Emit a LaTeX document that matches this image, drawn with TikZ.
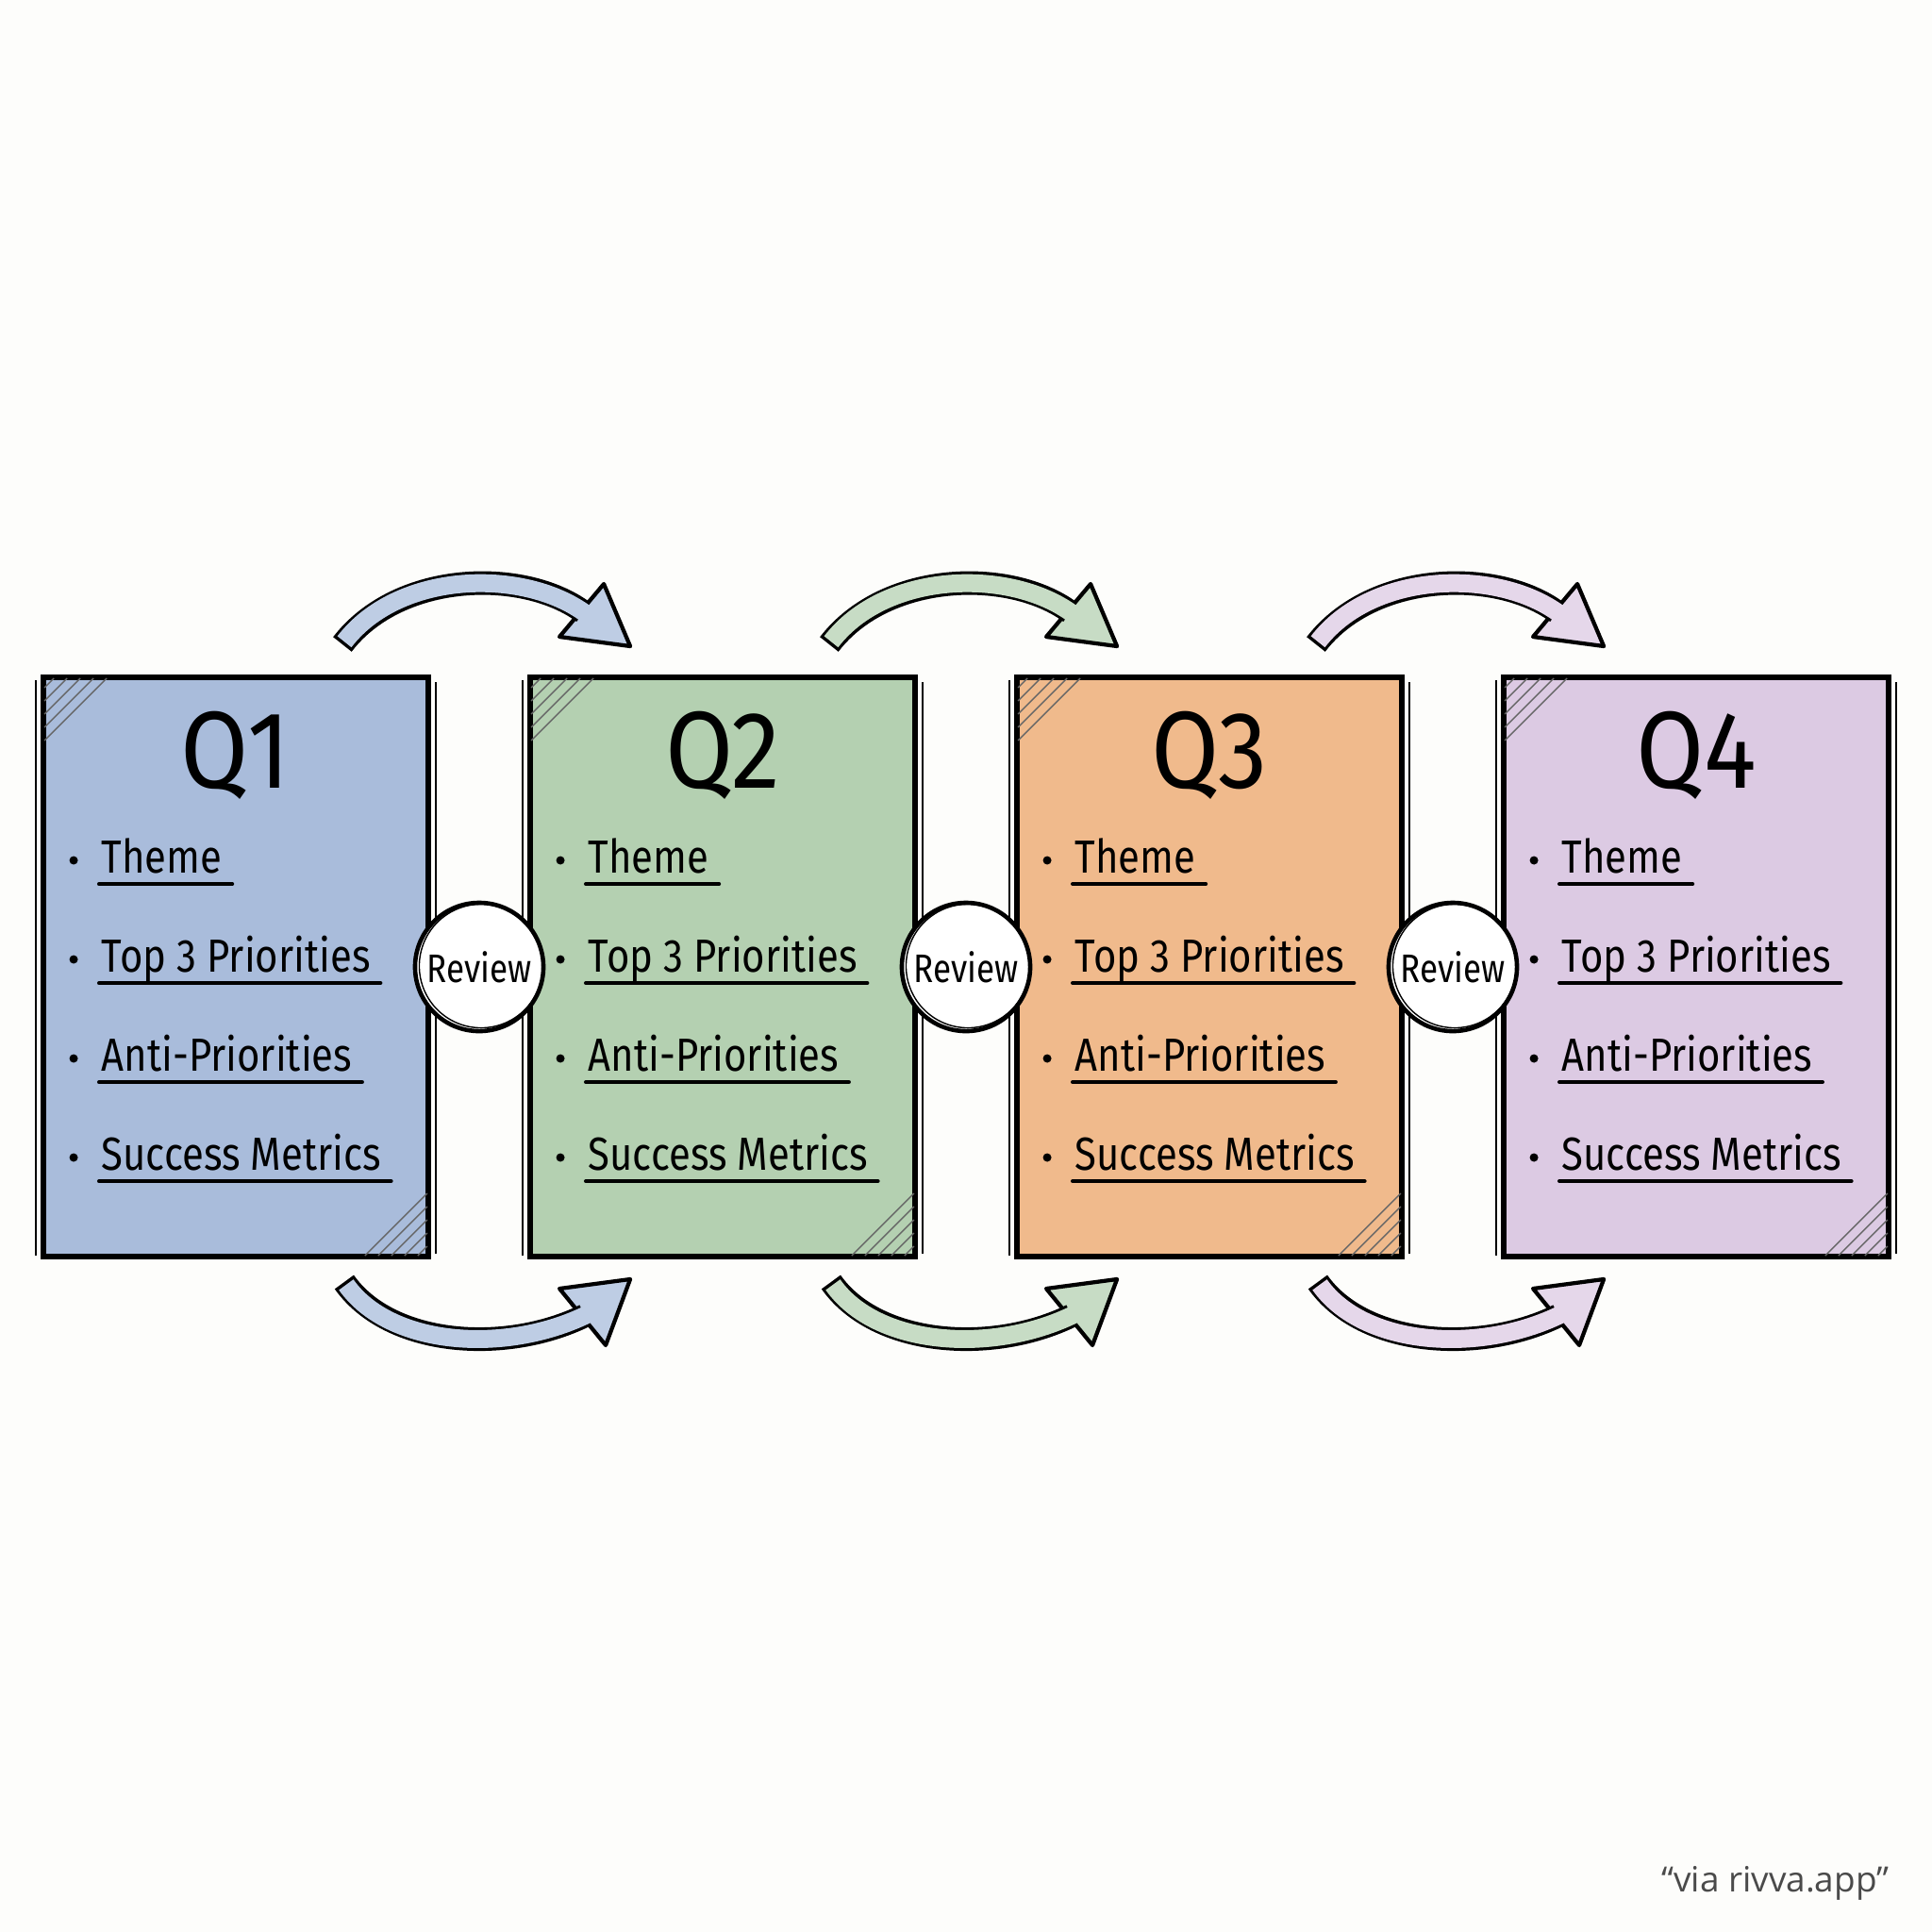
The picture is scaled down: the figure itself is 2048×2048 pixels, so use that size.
\documentclass[tikz,border=0pt]{standalone}
\usepackage{fontspec}
\setmainfont{Fira Sans}
\newfontfamily\wmfont{Open Sans}
\usetikzlibrary{calc, arrows.meta, positioning}
\definecolor{paper}{HTML}{FDFDFB}
\definecolor{qblue}{HTML}{A9BCDB}
\definecolor{qgreen}{HTML}{B4D0B1}
\definecolor{qorange}{HTML}{F0BA8C}
\definecolor{qpurple}{HTML}{DCCAE3}
\definecolor{wmgray}{HTML}{4A4A4A}

\begin{document}
\begin{tikzpicture}[x=0.01cm, y=-0.01cm,
  quarter/.style={draw=black, line width=1.6pt, minimum width=4.08cm,
    minimum height=6.14cm, inner sep=0pt},
  qtitle/.style={anchor=base, inner sep=0pt, font=\fontsize{33}{36}\selectfont},
  item/.style={anchor=base west, inner sep=0pt, font=\fontsize{14}{16}\selectfont},
  uline/.style={line width=1.2pt, line cap=round},
  review/.style={circle, draw=black, line width=1.3pt, fill=white,
    minimum size=1.36cm, inner sep=0pt, font=\fontsize{12}{14}\selectfont},
  hatch/.style={line width=0.4pt, black!60},
  bandout/.style={line width=0.25cm, draw=black, shorten >=-0.03cm},
  bandin/.style={line width=0.19cm, shorten <=0.035cm, shorten >=-0.06cm},
  head/.style={line width=1.2pt, draw=black, line join=round}]

  \fill[paper] (0,0) rectangle (2048,2048);
  \useasboundingbox (0,0) rectangle (2048,2048);

  % quarter boxes
  \foreach \i/\col in {1/qblue, 2/qgreen, 3/qorange, 4/qpurple} {
    \pgfmathsetmacro\qx{250+516*(\i-1)}
    \node[quarter, fill=\col] (q\i) at (\qx,1025) {};
    \draw[line width=0.5pt] ($(q\i.north west)+(-5,6)$) -- ($(q\i.south west)+(-5,-4)$);
    \draw[line width=0.5pt] ($(q\i.north east)+(5,8)$) -- ($(q\i.south east)+(5,-6)$);
    \foreach \h in {14,28,...,70} {
      \draw[hatch] ($(q\i.north west)+(\h,4)$) -- ($(q\i.north west)+(4,\h)$);
      \draw[hatch] ($(q\i.south east)+(-\h,-4)$) -- ($(q\i.south east)+(-4,-\h)$);
    }
    \node[qtitle] (t\i) at ($(q\i.north)+(0,120)$) {\scalebox{0.9}[1]{Q\i}};
    \foreach \txt [count=\k] in {Theme, Top 3 Priorities, Anti-Priorities, Success Metrics} {
      \node[item] (i\i-\k) at ($(q\i.north west)+(64,105*\k+105)$) {\scalebox{0.85}[1]{\txt}};
      \fill ($(i\i-\k.base west)+(-29,-13)$) circle[radius=0.045cm];
      \draw[uline] ($(i\i-\k.base west)+(-2,12)$) -- ($(i\i-\k.base east)+(10,12)$);
    }
  }

  % review circles
  \foreach \i/\j in {1/2, 2/3, 3/4} {
    \node[review] (r\i) at ($(q\i.east)!0.5!(q\j.west)$) {\scalebox{0.83}[1]{Review}};
    \draw[line width=0.4pt] ($(r\i.center)+(2,-1)$) circle[radius=0.655cm];
  }

  % hand-off arrows
  \foreach \i/\j/\acol in {1/2/qblue, 2/3/qgreen, 3/4/qpurple} {
    \coordinate (ta\i) at ($(q\i.north east)+(-94,-32)$);
    \coordinate (tb\i) at ($(q\j.north west)+(57,-68)$);
    \filldraw[head, fill=\acol!75!white] ($(tb\i)+(24,-28)$) -- ($(tb\i)+(52,38)$)
      -- ($(tb\i)+(-23,28)$) -- cycle;
    \draw[bandout] (ta\i) .. controls +(60,-78) and +(-61,-45) .. (tb\i);
    \draw[bandin, \acol!75!white] (ta\i) .. controls +(60,-78) and +(-61,-45) .. (tb\i);

    \coordinate (ba\i) at ($(q\i.south east)+(-92,24)$);
    \coordinate (bb\i) at ($(q\j.south west)+(58,61)$);
    \filldraw[head, fill=\acol!75!white] ($(bb\i)+(-24,-30)$) -- ($(bb\i)+(51,-40)$)
      -- ($(bb\i)+(25,30)$) -- cycle;
    \draw[bandout] (ba\i) .. controls +(48,68) and +(-82,40) .. (bb\i);
    \draw[bandin, \acol!75!white] (ba\i) .. controls +(48,68) and +(-82,40) .. (bb\i);
  }

  \node[anchor=base east, inner sep=0pt, text=wmgray, font=\wmfont\fontsize{10.5}{12}\selectfont]
    (wm) at (2003,2005) {“via rivva.app”};
\end{tikzpicture}
\end{document}
